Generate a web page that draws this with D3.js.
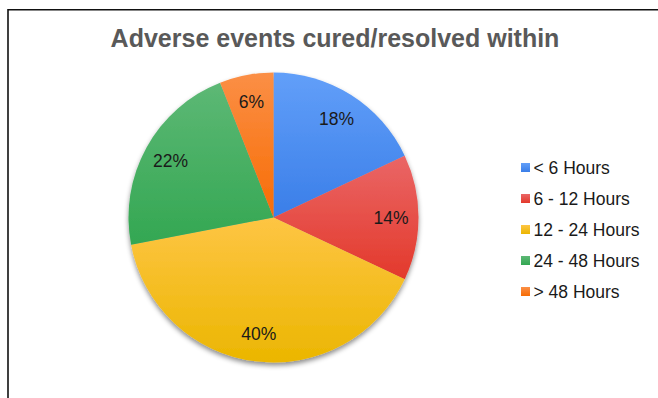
<!DOCTYPE html>
<html>
<head>
<meta charset="utf-8">
<script src="https://cdn.jsdelivr.net/npm/d3@7"></script>
<style>
  html, body { margin: 0; padding: 0; background: #fff; }
  svg { display: block; }
  text { font-family: "Liberation Sans", Arial, sans-serif; }
</style>
</head>
<body>
<svg id="chart" width="658" height="398"></svg>
<script>
// Share of adverse events by time to cure/resolution
const categories = ["< 6 Hours", "6 - 12 Hours", "12 - 24 Hours", "24 - 48 Hours", "> 48 Hours"];
const shares = [18, 14, 40, 22, 6];
const lightColors = ["#629ff9", "#ea6666", "#fec544", "#5db875", "#fb8f46"];
const darkColors  = ["#3a7ee8", "#e3392b", "#ebb600", "#33a752", "#f76c04"];
const titleText = "Adverse events cured/resolved within";

const svg = d3.select("#chart");
const W = 658, H = 398;
const cx = 273.5, cy = 217.5, R = 145;

const defs = svg.append("defs");

// vertical light-to-dark gradient for each category
categories.forEach((c, i) => {
  const g = defs.append("linearGradient")
    .attr("id", "grad" + i)
    .attr("x1", 0).attr("y1", 0).attr("x2", 0).attr("y2", 1);
  g.append("stop").attr("offset", "0%").attr("stop-color", lightColors[i]);
  g.append("stop").attr("offset", "100%").attr("stop-color", darkColors[i]);
});

const shadow = defs.append("filter").attr("id", "pieShadow")
  .attr("x", "-10%").attr("y", "-10%").attr("width", "120%").attr("height", "125%");
shadow.append("feDropShadow")
  .attr("dx", 0).attr("dy", 3).attr("stdDeviation", 2.5)
  .attr("flood-color", "#000").attr("flood-opacity", 0.45);

// frame lines along top and left
svg.append("path")
  .attr("d", `M8,${H} V9.75 H${W}`)
  .attr("fill", "none")
  .attr("stroke", "#111")
  .attr("stroke-width", 1.6);

// title
svg.append("text")
  .attr("x", 335).attr("y", 47.3)
  .attr("text-anchor", "middle")
  .attr("font-size", 25)
  .attr("font-weight", "bold")
  .attr("fill", "#595959")
  .text(titleText);

const data = categories.map((c, i) => ({ name: c, value: shares[i], idx: i }));

const pie = d3.pie().sort(null).value(d => d.value);
const arcs = pie(data);
const arc = d3.arc().innerRadius(0).outerRadius(R);
const labelArc = d3.arc().innerRadius(R * 0.81).outerRadius(R * 0.81);

const pieG = svg.append("g").attr("transform", `translate(${cx},${cy})`);

const slices = pieG.append("g").attr("filter", "url(#pieShadow)");
slices.selectAll("path")
  .data(arcs)
  .join("path")
  .attr("d", arc)
  .attr("fill", d => `url(#grad${d.data.idx})`);

pieG.append("g").selectAll("text")
  .data(arcs)
  .join("text")
  .attr("transform", d => `translate(${labelArc.centroid(d)})`)
  .attr("text-anchor", "middle")
  .attr("dy", "0.36em")
  .attr("font-size", 17.5)
  .attr("fill", "#1a1a1a")
  .text(d => d.data.value + "%");

// legend
const legendY = d3.scalePoint().domain(categories).range([167.5, 291.5]);
const legend = svg.append("g");
const rows = legend.selectAll("g")
  .data(data)
  .join("g")
  .attr("transform", d => `translate(521,${legendY(d.name)})`);
rows.append("rect")
  .attr("x", 0).attr("y", -4.5)
  .attr("width", 9).attr("height", 9)
  .attr("fill", d => `url(#grad${d.idx})`);
rows.append("text")
  .attr("x", 12.5).attr("y", 0)
  .attr("dy", "0.36em")
  .attr("font-size", 17.5)
  .attr("fill", "#1a1a1a")
  .text(d => d.name);
</script>
</body>
</html>
